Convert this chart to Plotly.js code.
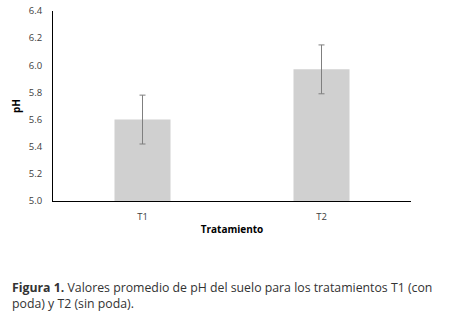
<!DOCTYPE html>
<html>
<head>
<meta charset="utf-8">
<script src="https://cdn.plot.ly/plotly-3.0.1.min.js"></script>
<style>html,body{margin:0;padding:0;background:#fff;}#chart{width:451px;height:314px;}</style>
</head>
<body>
<div id="chart"></div>
<script>
const categories = ["T1", "T2"];
const phValues = [5.6, 5.97];
const phErrors = [0.18, 0.18];
const yTicks = [5.0, 5.2, 5.4, 5.6, 5.8, 6.0, 6.2, 6.4];

const trace = {
  type: "bar",
  x: categories,
  y: phValues,
  marker: {color: "#d0d0d0"},
  error_y: {type: "data", array: phErrors, visible: true, color: "#7f7f7f", thickness: 1, width: 3},
  hoverinfo: "none"
};

const layout = {
  width: 451, height: 314,
  margin: {l: 53, r: 40, t: 11, b: 113},
  paper_bgcolor: "#fff", plot_bgcolor: "#fff",
  showlegend: false,
  bargap: 0.687,
  font: {family: "Open Sans", color: "#595959", size: 9.5},
  xaxis: {
    showline: true, linecolor: "#000", linewidth: 1,
    ticks: "outside", ticklen: 7, tickcolor: "rgba(0,0,0,0)",
    tickfont: {family: "Open Sans", size: 9.5, color: "#404040"},
    title: {text: "<b>Tratamiento</b>", font: {family: "Open Sans", size: 10, color: "#000"}, standoff: 3}
  },
  yaxis: {
    range: [5.0, 6.4], tickvals: yTicks, ticktext: yTicks.map(v => v.toFixed(1)),
    showgrid: false, zeroline: false,
    showline: true, linecolor: "#000", linewidth: 1,
    ticks: "outside", ticklen: 8, tickcolor: "rgba(0,0,0,0)",
    tickfont: {family: "Open Sans", size: 9.5, color: "#404040"},
    title: {text: "<b>pH</b>", font: {family: "Open Sans", size: 10, color: "#000"}, standoff: 6}
  },
  annotations: [{
    xref: "paper", yref: "paper",
    x: -43/358, y: -76/190, xanchor: "left", yanchor: "top", align: "left",
    showarrow: false,
    text: "<b>Figura 1.</b> Valores promedio de pH del suelo para los tratamientos T1 (con<br>poda) y T2 (sin poda).",
    font: {family: "Open Sans", size: 12.3, color: "#333"}
  }]
};

Plotly.newPlot("chart", [trace], layout, {displayModeBar: false, staticPlot: true});
</script>
</body>
</html>
